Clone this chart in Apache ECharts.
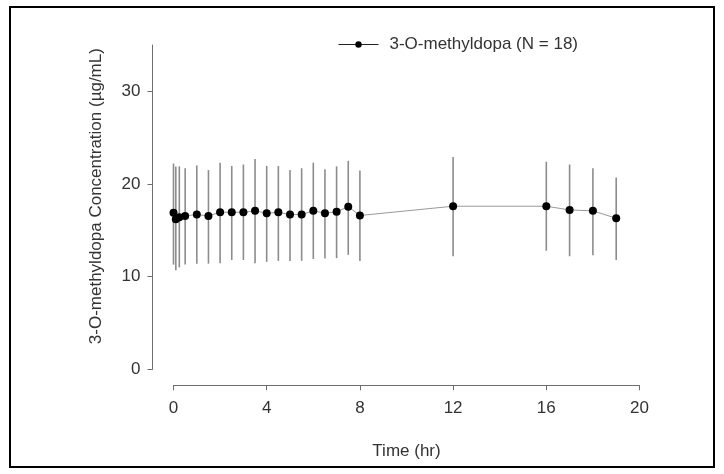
<!DOCTYPE html>
<html>
<head>
<meta charset="utf-8">
<script src="https://cdn.jsdelivr.net/npm/echarts@6/dist/echarts.min.js"></script>
<style>html,body{margin:0;padding:0;background:#fff}#c{width:724px;height:474px}</style>
</head>
<body>
<div id="c"></div>
<script>
const seriesName = '3-O-methyldopa (N = 18)';
const timeHr = [0, 0.1, 0.25, 0.5, 1, 1.5, 2, 2.5, 3, 3.5, 4, 4.5, 5, 5.5, 6, 6.5, 7, 7.5, 8, 12, 16, 17, 18, 19];
const meanConc = [16.9, 16.2, 16.4, 16.55, 16.7, 16.55, 16.95, 16.95, 16.95, 17.1, 16.85, 16.95, 16.7, 16.7, 17.1, 16.85, 17.0, 17.55, 16.6, 17.6, 17.6, 17.2, 17.1, 16.3];
const upperConc = [22.2, 21.9, 21.9, 21.7, 22.0, 21.5, 22.3, 21.95, 22.1, 22.7, 21.95, 21.95, 21.5, 21.7, 22.3, 21.6, 21.9, 22.5, 21.45, 22.9, 22.4, 22.1, 21.7, 20.7];
const lowerConc = [11.3, 10.7, 11.0, 11.3, 11.4, 11.4, 11.45, 11.8, 11.8, 11.45, 11.6, 11.7, 11.7, 11.7, 11.9, 11.95, 12.0, 12.35, 11.7, 12.2, 12.8, 12.2, 12.3, 11.8];
const xTicks = [0, 4, 8, 12, 16, 20];
const yTicks = [0, 10, 20, 30];

const FONT = 'Liberation Sans, Arial, Helvetica, sans-serif';
const TXT = '#333';
const AX = '#6e6e6e';

const chart = echarts.init(document.getElementById('c'), null, {renderer: 'canvas'});
const lineData = timeHr.map((t, i) => [t, meanConc[i]]);
const barData = timeHr.map((t, i) => [t, lowerConc[i], upperConc[i]]);

chart.setOption({
  animation: false,
  backgroundColor: '#fff',
  textStyle: {fontFamily: FONT},
  graphic: [{
    type: 'rect', silent: true,
    shape: {x: 10, y: 7, width: 704, height: 460},
    style: {fill: 'none', stroke: '#000', lineWidth: 2}
  }],
  legend: {
    data: [seriesName],
    left: 338, top: 36, padding: 0,
    itemWidth: 40, itemHeight: 8, itemGap: 10,
    textStyle: {fontSize: 17, color: TXT, fontFamily: FONT, padding: [0, 0, 0, 6]},
    lineStyle: {color: '#222', width: 1},
    itemStyle: {color: '#000'}
  },
  grid: {left: 173.5, right: 84.5, top: 45, bottom: 104.7},
  xAxis: {
    type: 'value', min: 0, max: 20, interval: 4,
    offset: 16,
    name: 'Time (hr)', nameLocation: 'middle', nameGap: 58,
    nameTextStyle: {fontSize: 17, color: TXT, fontFamily: FONT},
    axisLine: {show: true, onZero: false, lineStyle: {color: AX, width: 1}},
    axisTick: {show: true, length: 5, inside: false, customValues: xTicks, lineStyle: {color: AX}},
    axisLabel: {fontSize: 17, color: TXT, margin: 15, customValues: xTicks, fontFamily: FONT},
    splitLine: {show: false}
  },
  yAxis: {
    type: 'value', min: 0, max: 35, interval: 10,
    offset: 21,
    name: '3-O-methyldopa Concentration (µg/mL)', nameLocation: 'middle', nameGap: 48,
    nameTextStyle: {fontSize: 17, color: TXT, fontFamily: FONT, padding: [0, 0, 0, 22]},
    axisLine: {show: true, onZero: false, lineStyle: {color: AX, width: 1}},
    axisTick: {show: true, length: 5, inside: false, customValues: yTicks, lineStyle: {color: AX}},
    axisLabel: {fontSize: 17, color: TXT, margin: 12, customValues: yTicks, fontFamily: FONT},
    splitLine: {show: false}
  },
  series: [
    {
      type: 'custom',
      name: 'errorbars',
      silent: true,
      clip: false,
      z: 1,
      data: barData,
      renderItem: function (params, api) {
        const x = api.value(0);
        const p1 = api.coord([x, api.value(1)]);
        const p2 = api.coord([x, api.value(2)]);
        return {
          type: 'line',
          shape: {x1: p1[0], y1: p1[1], x2: p2[0], y2: p2[1]},
          style: {stroke: '#8c8c8c', lineWidth: 1.6}
        };
      }
    },
    {
      type: 'line',
      name: seriesName,
      data: lineData,
      clip: false,
      z: 3,
      symbol: 'circle',
      symbolSize: 8,
      showSymbol: true,
      lineStyle: {color: '#9a9a9a', width: 1},
      itemStyle: {color: '#000'}
    }
  ]
});
</script>
</body>
</html>
